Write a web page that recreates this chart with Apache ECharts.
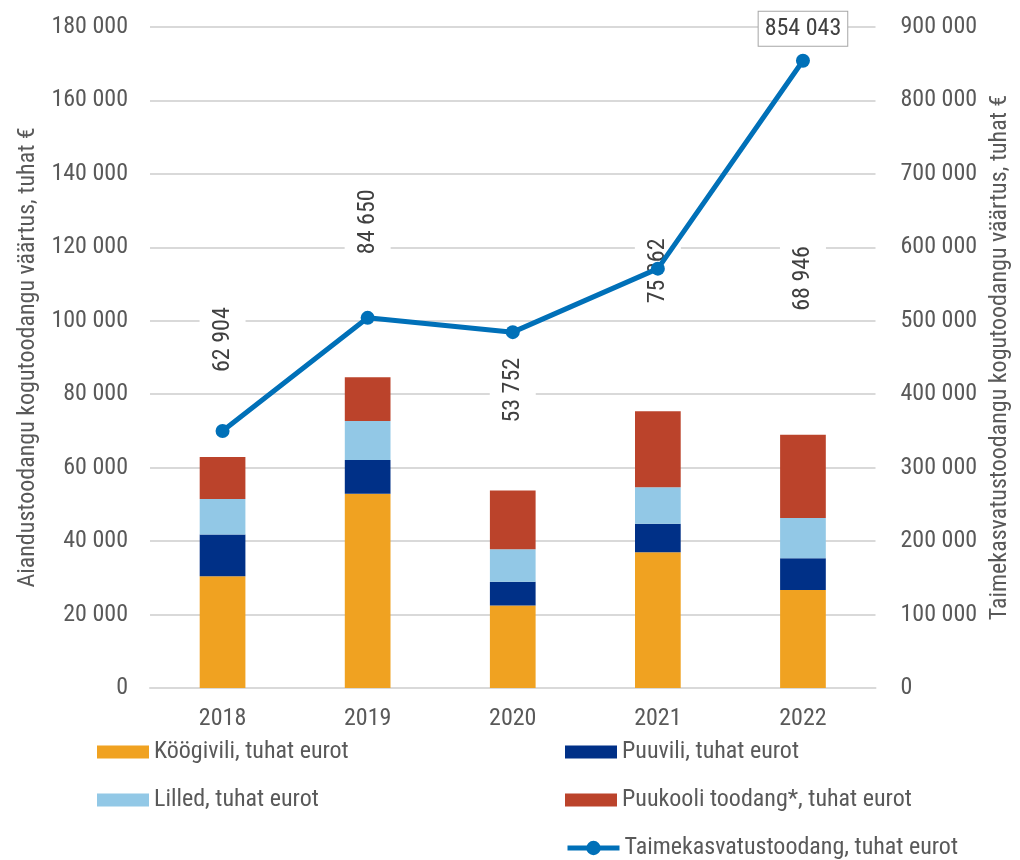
<!DOCTYPE html>
<html>
<head>
<meta charset="utf-8">
<script src="https://cdn.jsdelivr.net/npm/echarts@6/dist/echarts.min.js"></script>
<style>
  html, body { margin: 0; padding: 0; background: #fff; }
  #chart { width: 1020px; height: 860px; }
</style>
</head>
<body>
<div id="chart"></div>
<script>
// values in thousand euros
const years = ['2018', '2019', '2020', '2021', '2022']
const koogivili = [30400, 52900, 22500, 37000, 26700]
const puuvili = [11400, 9200, 6400, 7700, 8600]
const lilled = [9700, 10600, 8900, 10000, 11000]
const puukool = [11404, 11950, 15952, 20662, 22646]
const totals = [62904, 84650, 53752, 75362, 68946]
const taimekasvatus = [350000, 504000, 484500, 571000, 854043]

const leftTicks = { min: 0, max: 180000, interval: 20000 }
const rightTicks = { min: 0, max: 900000, interval: 100000 }

// gap between bar top and the rotated total label (px), as placed in the original
const totalLabelGap = [81, 119, 64, 104, 120]

const FONT = "'Roboto Condensed', 'Liberation Sans Narrow', 'DejaVu Sans Condensed', Roboto, sans-serif"
const TEXT = '#595959'
const FS = 24

const fmt = v => String(v).replace(/\B(?=(\d{3})+(?!\d))/g, ' ')

const chart = echarts.init(document.getElementById('chart'))

const barSeries = (name, data, color) => ({
	name,
	type: 'bar',
	stack: 'aiandus',
	yAxisIndex: 0,
	z: 2,
	barWidth: '31.5%',
	data,
	itemStyle: { color },
	emphasis: { disabled: true }
})

const legendBase = {
	orient: 'vertical',
	padding: 0,
	itemGap: 24,
	itemWidth: 52,
	itemHeight: 13,
	textStyle: { fontFamily: FONT, fontSize: FS, color: TEXT }
}

const option = {
	animation: false,
	textStyle: { fontFamily: FONT },
	grid: { left: 150, right: 140, top: 27, bottom: 172 },
	legend: [
		{
			...legendBase,
			left: 97,
			top: 740,
			icon: 'rect',
			data: ['Köögivili, tuhat eurot', 'Lilled, tuhat eurot']
		},
		{
			...legendBase,
			left: 565,
			top: 740,
			icon: 'rect',
			data: ['Puuvili, tuhat eurot', 'Puukooli toodang*, tuhat eurot']
		},
		{
			...legendBase,
			left: 565,
			top: 836,
			itemHeight: 18,
			data: [{ name: 'Taimekasvatustoodang, tuhat eurot', lineStyle: { width: 5 } }]
		}
	],
	xAxis: {
		type: 'category',
		data: years,
		axisLine: { lineStyle: { color: '#d9d9d9', width: 2 } },
		axisTick: { show: false },
		axisLabel: { fontFamily: FONT, fontSize: FS, color: TEXT, margin: 19 }
	},
	yAxis: [
		{
			type: 'value',
			...leftTicks,
			name: 'Aiandustoodangu kogutoodangu väärtus, tuhat €',
			nameLocation: 'middle',
			nameRotate: 90,
			nameGap: 110,
			nameTextStyle: { fontFamily: FONT, fontSize: FS, color: TEXT },
			axisLine: { show: false },
			axisTick: { show: false },
			splitLine: { lineStyle: { color: '#d9d9d9', width: 2 } },
			axisLabel: { fontFamily: FONT, fontSize: FS, color: TEXT, margin: 22, formatter: fmt }
		},
		{
			type: 'value',
			...rightTicks,
			position: 'right',
			name: 'Taimekasvatustoodangu kogutoodangu väärtus, tuhat €',
			nameLocation: 'middle',
			nameRotate: 90,
			nameGap: 112,
			nameTextStyle: { fontFamily: FONT, fontSize: FS, color: TEXT },
			axisLine: { show: false },
			axisTick: { show: false },
			splitLine: { show: false },
			axisLabel: { fontFamily: FONT, fontSize: FS, color: TEXT, margin: 25, formatter: fmt }
		}
	],
	series: [
		barSeries('Köögivili, tuhat eurot', koogivili, '#f0a221'),
		barSeries('Puuvili, tuhat eurot', puuvili, '#003087'),
		barSeries('Lilled, tuhat eurot', lilled, '#92c8e6'),
		{
			...barSeries('Puukooli toodang*, tuhat eurot', puukool.map((v, i) => ({
				value: v,
				label: { distance: totalLabelGap[i] }
			})), '#bb432b'),
			label: {
				show: true,
				position: 'top',
				rotate: 90,
				align: 'left',
				verticalAlign: 'middle',
				fontFamily: FONT,
				fontSize: FS,
				color: '#404040',
				backgroundColor: '#fff',
				padding: [11, 4, 11, 4],
				formatter: p => fmt(totals[p.dataIndex])
			}
		},
		{
			name: 'Taimekasvatustoodang, tuhat eurot',
			type: 'line',
			yAxisIndex: 1,
			z: 5,
			data: taimekasvatus.map((v, i) => i === taimekasvatus.length - 1
				? { value: v, label: { show: true } }
				: v),
			symbol: 'circle',
			symbolSize: 14,
			lineStyle: { color: '#0070b8', width: 5 },
			itemStyle: { color: '#0070b8' },
			emphasis: { disabled: true },
			label: {
				show: false,
				position: 'top',
				distance: 8,
				fontFamily: FONT,
				fontSize: FS,
				color: '#404040',
				backgroundColor: '#fff',
				borderColor: '#a6a6a6',
				borderWidth: 1,
				padding: [5, 6],
				formatter: p => fmt(p.value)
			}
		}
	]
}

chart.setOption(option)
</script>
</body>
</html>
